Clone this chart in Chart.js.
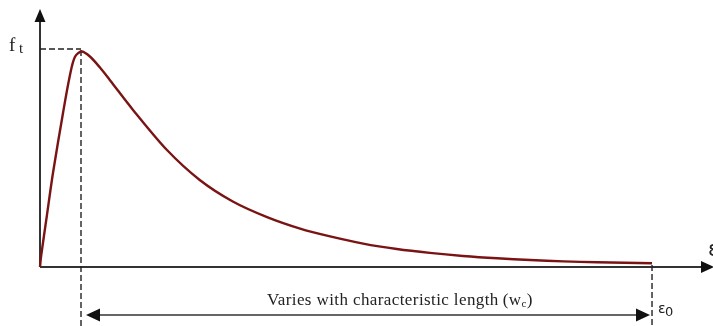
<!DOCTYPE html>
<html>
<head>
<meta charset="utf-8">
<script src="https://cdn.jsdelivr.net/npm/chart.js@4.4.1/dist/chart.umd.min.js"></script>
<style>
  body { margin: 0; background: #fff; }
  canvas { display: block; }
</style>
</head>
<body>
<canvas id="softening" width="713" height="326"></canvas>
<script>
// strain (normalised so eps0 = 1) and stress (normalised so ft = 1)
const strain = [0, 0.0016, 0.0114, 0.0212, 0.0376, 0.049, 0.057, 0.068, 0.082, 0.098, 0.114, 0.152, 0.2075, 0.261, 0.315, 0.371, 0.425, 0.474, 0.528, 0.583, 0.637, 0.691, 0.747, 0.801, 0.855, 0.910, 1.0];
const stress = [0, 0.046, 0.240, 0.433, 0.710, 0.885, 0.968, 0.993, 0.969, 0.919, 0.862, 0.724, 0.539, 0.401, 0.302, 0.230, 0.177, 0.141, 0.108, 0.083, 0.065, 0.051, 0.040, 0.032, 0.026, 0.022, 0.017];

const peakStrain = 0.067;   // strain at ft
const endStrain = 1.0;      // eps0
const peakStress = 1.0;     // ft

const yLabel = ['f', 't'];
const xLabel = 'ε';
const endLabel = ['ε', '0'];
const spanText = 'Varies with characteristic length';
const spanSub = ['(w', 'c', ')'];

const points = strain.map((s, i) => ({ x: s, y: stress[i] }));

// Draw axes, arrows, dashed guides and labels
const sketchPlugin = {
    id: 'sketch',
    beforeDatasetsDraw(chart) {
        const { ctx, chartArea, scales } = chart;
        const xs = scales.x, ys = scales.y;
        const x0 = xs.getPixelForValue(0);
        const y0 = ys.getPixelForValue(0);
        const xp = xs.getPixelForValue(peakStrain);
        const yp = ys.getPixelForValue(peakStress);
        const xe = xs.getPixelForValue(endStrain);

        ctx.save();
        ctx.strokeStyle = '#333';
        ctx.fillStyle = '#111';
        ctx.lineWidth = 2;

        // y axis + arrow
        ctx.beginPath();
        ctx.moveTo(x0, y0);
        ctx.lineTo(x0, chartArea.top + 8);
        ctx.stroke();
        ctx.beginPath();
        ctx.moveTo(x0, chartArea.top);
        ctx.lineTo(x0 - 5.5, chartArea.top + 13);
        ctx.lineTo(x0 + 5.5, chartArea.top + 13);
        ctx.closePath();
        ctx.fill();

        // x axis + arrow
        const xEnd = chartArea.right + 14;
        ctx.beginPath();
        ctx.moveTo(x0, y0);
        ctx.lineTo(xEnd - 8, y0);
        ctx.stroke();
        ctx.beginPath();
        ctx.moveTo(xEnd, y0);
        ctx.lineTo(xEnd - 13, y0 - 6);
        ctx.lineTo(xEnd - 13, y0 + 6);
        ctx.closePath();
        ctx.fill();

        // dashed guides
        ctx.setLineDash([6, 3]);
        ctx.strokeStyle = '#222';
        ctx.lineWidth = 1.4;
        ctx.beginPath();
        ctx.moveTo(x0, yp - 1);
        ctx.lineTo(xp, yp - 1);
        ctx.moveTo(xp, yp);
        ctx.lineTo(xp, chart.height);
        ctx.moveTo(xe, y0 - 2);
        ctx.lineTo(xe, chart.height);
        ctx.stroke();
        ctx.setLineDash([]);

        // double arrow under the axis
        const ya = y0 + 48;
        const xa1 = xp + 5, xa2 = xe - 2;
        ctx.strokeStyle = '#333';
        ctx.lineWidth = 1.5;
        ctx.beginPath();
        ctx.moveTo(xa1 + 8, ya);
        ctx.lineTo(xa2 - 8, ya);
        ctx.stroke();
        ctx.beginPath();
        ctx.moveTo(xa1, ya);
        ctx.lineTo(xa1 + 14, ya - 6.5);
        ctx.lineTo(xa1 + 14, ya + 6.5);
        ctx.closePath();
        ctx.moveTo(xa2, ya);
        ctx.lineTo(xa2 - 14, ya - 6.5);
        ctx.lineTo(xa2 - 14, ya + 6.5);
        ctx.closePath();
        ctx.fill();
        ctx.restore();
    },
    afterDraw(chart) {
        const { ctx, chartArea, scales } = chart;
        const xs = scales.x, ys = scales.y;
        const x0 = xs.getPixelForValue(0);
        const y0 = ys.getPixelForValue(0);
        const yp = ys.getPixelForValue(peakStress);
        const xe = xs.getPixelForValue(endStrain);

        ctx.save();
        ctx.fillStyle = '#222';
        ctx.textBaseline = 'alphabetic';

        // ft
        ctx.font = '19px "Liberation Serif", serif';
        ctx.fillText(yLabel[0], x0 - 31, yp + 1);
        ctx.font = '15px "Liberation Serif", serif';
        ctx.fillText(yLabel[1], x0 - 21, yp + 3);

        // eps at end of x axis (partly off canvas)
        ctx.font = '21px "DejaVu Sans", sans-serif';
        ctx.fillText(xLabel, chartArea.right + 8, y0 - 11);

        // eps0
        ctx.font = '14px "DejaVu Sans", sans-serif';
        ctx.fillText(endLabel[0], xe + 6, y0 + 46);
        ctx.font = '13px "DejaVu Sans", sans-serif';
        ctx.fillText(endLabel[1], xe + 13, y0 + 49);

        // span text
        ctx.font = '17px "Liberation Serif", serif';
        ctx.letterSpacing = '0.4px';
        let tx = x0 + 227;
        const ty = y0 + 38;
        ctx.fillText(spanText, tx, ty);
        tx += ctx.measureText(spanText).width + 4;
        ctx.fillText(spanSub[0], tx, ty);
        tx += ctx.measureText(spanSub[0]).width;
        ctx.font = '11px "Liberation Serif", serif';
        ctx.fillText(spanSub[1], tx, ty + 2);
        tx += ctx.measureText(spanSub[1]).width;
        ctx.font = '17px "Liberation Serif", serif';
        ctx.fillText(spanSub[2], tx, ty);
        ctx.restore();
    }
};

const chart = new Chart(document.getElementById('softening').getContext('2d'), {
    type: 'line',
    data: {
        datasets: [{
            data: points,
            borderColor: '#7a1414',
            borderWidth: 2.4,
            pointRadius: 0,
            tension: 0.3,
            fill: false,
            clip: false
        }]
    },
    options: {
        responsive: false,
        animation: false,
        devicePixelRatio: 1,
        layout: { padding: { left: 40, right: 13, top: 9, bottom: 59 } },
        plugins: { legend: { display: false }, tooltip: { enabled: false } },
        scales: {
            x: { type: 'linear', min: 0, max: 1.0784, display: false },
            y: { type: 'linear', min: 0, max: 1.189, display: false }
        }
    },
    plugins: [sketchPlugin]
});
</script>
</body>
</html>
